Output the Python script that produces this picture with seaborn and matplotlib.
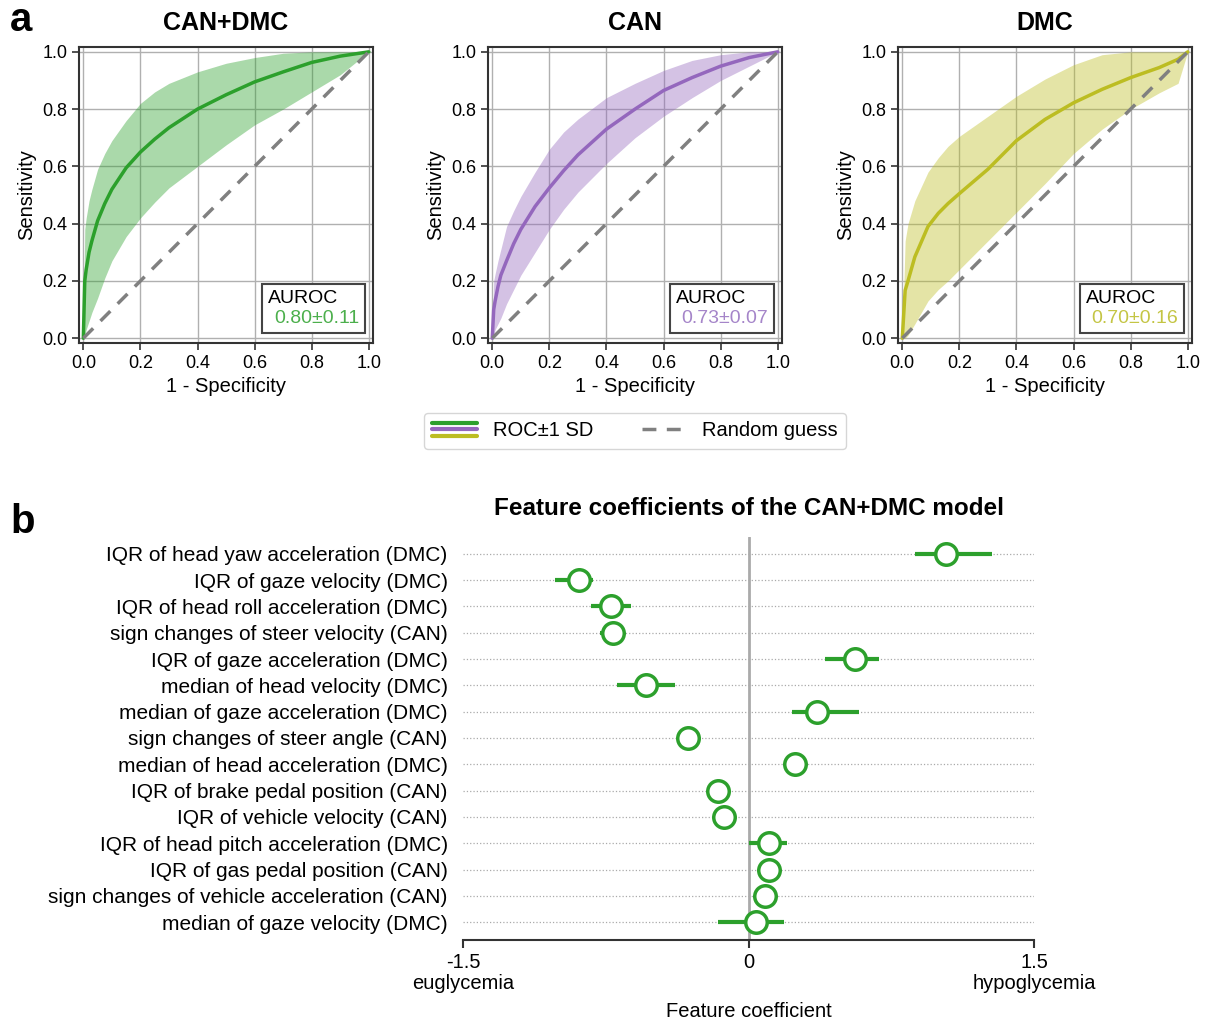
import numpy as np
import matplotlib
matplotlib.use("Agg")
import matplotlib.pyplot as plt
import seaborn as sns
from matplotlib.legend_handler import HandlerBase
from matplotlib.lines import Line2D

# ROC curves (mean and +-1 SD band)
both_fpr = [0.0, 0.005, 0.01, 0.02, 0.03, 0.05, 0.075, 0.1, 0.15, 0.2, 0.25, 0.3, 0.4, 0.5, 0.6, 0.7, 0.8, 0.9, 1.0]
both_mean = [0.0, 0.20, 0.24, 0.30, 0.34, 0.41, 0.47, 0.52, 0.595, 0.65, 0.695, 0.735, 0.80, 0.85, 0.895, 0.93, 0.963, 0.985, 1.0]
both_lo = [0.0, 0.01, 0.03, 0.06, 0.09, 0.14, 0.21, 0.27, 0.355, 0.42, 0.475, 0.525, 0.60, 0.675, 0.745, 0.80, 0.86, 0.92, 1.0]
both_hi = [0.0, 0.38, 0.42, 0.48, 0.52, 0.59, 0.645, 0.69, 0.76, 0.82, 0.86, 0.89, 0.93, 0.96, 0.98, 0.995, 1.0, 1.0, 1.0]

can_fpr = [0.0, 0.005, 0.01, 0.02, 0.03, 0.05, 0.075, 0.1, 0.15, 0.2, 0.25, 0.3, 0.4, 0.5, 0.6, 0.7, 0.8, 0.9, 1.0]
can_mean = [0.0, 0.10, 0.13, 0.18, 0.22, 0.27, 0.33, 0.38, 0.46, 0.525, 0.585, 0.64, 0.73, 0.80, 0.865, 0.91, 0.95, 0.98, 1.0]
can_lo = [0.0, 0.01, 0.03, 0.05, 0.07, 0.12, 0.17, 0.22, 0.30, 0.38, 0.45, 0.51, 0.61, 0.70, 0.775, 0.84, 0.90, 0.95, 1.0]
can_hi = [0.0, 0.20, 0.225, 0.27, 0.31, 0.39, 0.445, 0.495, 0.58, 0.66, 0.72, 0.765, 0.84, 0.89, 0.935, 0.97, 0.99, 1.0, 1.0]

dmc_fpr = [0.0, 0.01, 0.02, 0.044, 0.09, 0.126, 0.16, 0.2, 0.3, 0.4, 0.5, 0.6, 0.7, 0.8, 0.9, 0.966, 1.0]
dmc_mean = [0.0, 0.167, 0.20, 0.284, 0.39, 0.436, 0.47, 0.505, 0.59, 0.69, 0.764, 0.822, 0.869, 0.91, 0.945, 0.974, 1.0]
dmc_lo = [0.0, 0.0, 0.01, 0.05, 0.13, 0.17, 0.20, 0.24, 0.34, 0.44, 0.54, 0.645, 0.73, 0.80, 0.857, 0.89, 1.0]
dmc_hi = [0.0, 0.34, 0.40, 0.48, 0.58, 0.63, 0.67, 0.705, 0.775, 0.845, 0.905, 0.955, 0.99, 1.0, 1.0, 1.0, 1.0]

panel_titles = ["CAN+DMC", "CAN", "DMC"]
auroc_text = ["0.80\u00b10.11", "0.73\u00b10.07", "0.70\u00b10.16"]
colors = ["#2ca02c", "#9467bd", "#bcbd22"]
auroc_colors = ["#4caf4c", "#a585c9", "#c4c544"]

# feature coefficients (mean, lower, upper)
features = [
    "IQR of head yaw acceleration (DMC)",
    "IQR of gaze velocity (DMC)",
    "IQR of head roll acceleration (DMC)",
    "sign changes of steer velocity (CAN)",
    "IQR of gaze acceleration (DMC)",
    "median of head velocity (DMC)",
    "median of gaze acceleration (DMC)",
    "sign changes of steer angle (CAN)",
    "median of head acceleration (DMC)",
    "IQR of brake pedal position (CAN)",
    "IQR of vehicle velocity (CAN)",
    "IQR of head pitch acceleration (DMC)",
    "IQR of gas pedal position (CAN)",
    "sign changes of vehicle acceleration (CAN)",
    "median of gaze velocity (DMC)",
]
coef = [1.04, -0.89, -0.72, -0.71, 0.56, -0.54, 0.36, -0.32, 0.245, -0.16, -0.13, 0.11, 0.11, 0.085, 0.04]
coef_lo = [0.875, -1.015, -0.83, -0.78, 0.40, -0.69, 0.23, -0.32, 0.245, -0.16, -0.13, 0.0, 0.07, 0.085, -0.16]
coef_hi = [1.28, -0.815, -0.62, -0.68, 0.685, -0.385, 0.58, -0.32, 0.245, -0.16, -0.13, 0.20, 0.165, 0.085, 0.185]

sns.set_style("ticks")
plt.rcParams["font.family"] = ["Liberation Sans", "DejaVu Sans"]
plt.rcParams["text.color"] = "black"
plt.rcParams["axes.labelcolor"] = "black"
plt.rcParams["xtick.color"] = "black"
plt.rcParams["ytick.color"] = "black"

fig = plt.figure(figsize=(12.07, 10.21), dpi=100)

roc_data = [(both_fpr, both_mean, both_lo, both_hi), (can_fpr, can_mean, can_lo, can_hi),
            (dmc_fpr, dmc_mean, dmc_lo, dmc_hi)]
lefts = [0.0655, 0.4043, 0.744]
for i in range(3):
    ax = fig.add_axes([lefts[i], 0.664, 0.2436, 0.29])
    x, m, lo, hi = roc_data[i]
    c = colors[i]
    ax.fill_between(x, lo, hi, color=c, alpha=0.4, linewidth=0)
    sns.lineplot(x=x, y=m, color=c, linewidth=2.5, ax=ax)
    ax.plot([0, 1], [0, 1], ls="--", color="#808080", lw=2.5, dashes=(4, 3))
    ax.set_xlim(-0.015, 1.015)
    ax.set_ylim(-0.017, 1.017)
    ax.set_xticks(np.arange(0, 1.01, 0.2))
    ax.set_yticks(np.arange(0, 1.01, 0.2))
    ax.tick_params(labelsize=13, length=5, width=1.2, color="#333333")
    ax.grid(True, color="#b0b0b0", lw=1)
    for s in ax.spines.values():
        s.set_color("#333333")
        s.set_linewidth(1.5)
    ax.set_xlabel("1 - Specificity", fontsize=14.5)
    ax.set_ylabel("Sensitivity", fontsize=14.5)
    ax.set_title(panel_titles[i], fontsize=18, fontweight="bold", pad=12)
    leg = ax.legend([Line2D([], [], alpha=0)], [auroc_text[i]], title="AUROC",
                    loc="lower right", handlelength=0, handletextpad=0.3,
                    fancybox=False, edgecolor="#444444", framealpha=1,
                    fontsize=14, title_fontsize=14, borderpad=0.3, labelspacing=0.15,
                    borderaxespad=0, bbox_to_anchor=(0.973, 0.034))
    leg._legend_box.align = "left"
    leg.get_frame().set_linewidth(1.5)
    leg.get_texts()[0].set_color(auroc_colors[i])


class StackHandler(HandlerBase):
    def create_artists(self, legend, orig_handle, xdescent, ydescent, width, height, fontsize, trans):
        arts = []
        for k, col in enumerate(colors):
            y = height * (0.95 - 0.45 * k)
            arts.append(Line2D([0, width], [y, y], color=col, lw=3, transform=trans))
        return arts


stack = object()
rand = Line2D([], [], ls="--", color="#808080", lw=2.5, dashes=(4, 3))
fig.legend([stack, rand], ["ROC\u00b11 SD", "Random guess"], handler_map={object: StackHandler()},
           loc="center", bbox_to_anchor=(635 / 1207, 1 - 431 / 1021), ncol=2, fontsize=14.5,
           handlelength=2.2, handletextpad=0.8, columnspacing=2.4, frameon=True, edgecolor="#cccccc")

fig.text(10 / 1207, 1 - 20 / 1021, "a", fontsize=29, fontweight="bold", va="center")
fig.text(10 / 1207, 1 - 522 / 1021, "b", fontsize=29, fontweight="bold", va="center")

# coefficient panel
axb = fig.add_axes([0.3836, 0.0793, 0.4731, 0.395])
ypos = np.arange(len(features))
for y in ypos:
    axb.plot([-1.5, 1.5], [y, y], ls=":", color="#aaaaaa", lw=0.9, zorder=0)
axb.axvline(0, color="#aaaaaa", lw=2, zorder=1)
axb.hlines(ypos, coef_lo, coef_hi, color="#2ca02c", lw=3, zorder=2)
sns.scatterplot(x=coef, y=ypos, ax=axb, s=240, facecolor="white", edgecolor="#2ca02c",
                linewidth=2.5, zorder=3)
axb.set_ylim(14.68, -0.65)
axb.set_xlim(-1.5, 1.5)
axb.set_yticks(ypos)
axb.set_yticklabels(features, fontsize=15)
axb.tick_params(axis="y", length=0, pad=11)
axb.set_xticks([-1.5, 0, 1.5])
axb.set_xticklabels(["-1.5\neuglycemia", "0", "1.5\nhypoglycemia"], fontsize=14.5, linespacing=1.1)
axb.tick_params(axis="x", length=6, width=1.5, color="#333333")
for s in ["left", "right", "top"]:
    axb.spines[s].set_visible(False)
axb.spines["bottom"].set_color("#333333")
axb.spines["bottom"].set_linewidth(1.5)
axb.set_xlabel("Feature coefficient", fontsize=14.5, labelpad=7)
axb.set_title("Feature coefficients of the CAN+DMC model", fontsize=17.5, fontweight="bold", pad=16)

fig.savefig("out.png", dpi=100)
